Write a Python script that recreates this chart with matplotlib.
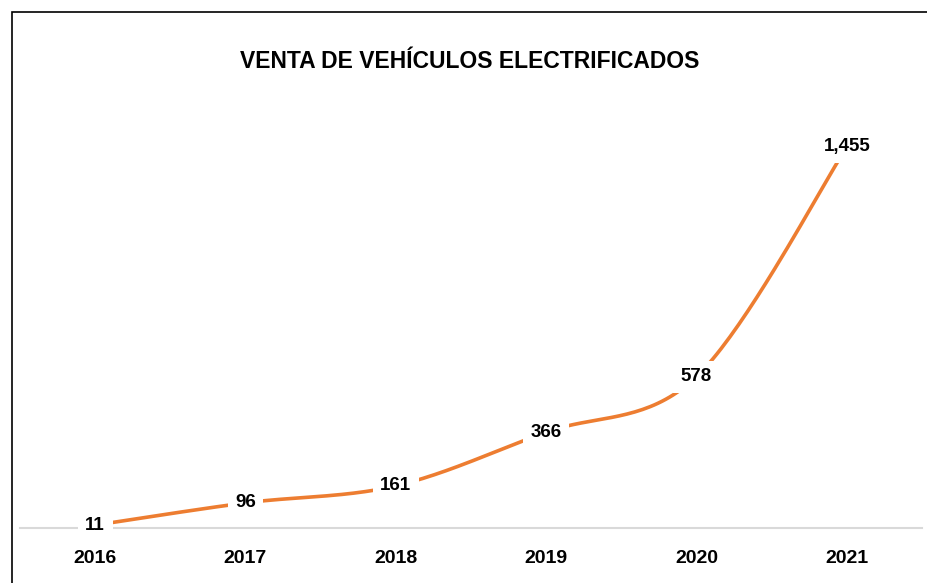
import numpy as np
import matplotlib.pyplot as plt
from matplotlib.patches import Rectangle

years = ['2016', '2017', '2018', '2019', '2020', '2021']
sales = [11, 96, 161, 366, 578, 1455]
labels = ['11', '96', '161', '366', '578', '1,455']

orange = '#ED7D31'
fonts = ['Liberation Sans', 'DejaVu Sans']


def smooth(x, y, n=40):
    # Excel-style smoothing: cubic bezier with Catmull-Rom control points
    x = np.asarray(x, float)
    y = np.asarray(y, float)
    px = np.concatenate([[x[0]], x, [x[-1]]])
    py = np.concatenate([[y[0]], y, [y[-1]]])
    xs, ys = [], []
    t = np.linspace(0, 1, n)
    for i in range(len(x) - 1):
        p0 = np.array([px[i + 1], py[i + 1]])
        p3 = np.array([px[i + 2], py[i + 2]])
        c1 = p0 + (p3 - np.array([px[i], py[i]])) / 6
        c2 = p3 - (np.array([px[i + 3], py[i + 3]]) - p0) / 6
        b = ((1 - t) ** 3)[:, None] * p0 + (3 * (1 - t) ** 2 * t)[:, None] * c1 \
            + (3 * (1 - t) * t ** 2)[:, None] * c2 + (t ** 3)[:, None] * p3
        xs.extend(b[:, 0])
        ys.extend(b[:, 1])
    return xs, ys


fig = plt.figure(figsize=(9.28, 5.83), dpi=100)
ax = fig.add_axes([20 / 928, 1 - 528 / 583, 902 / 928, (528 - 109) / 583])

xpos = np.arange(len(years))
sx, sy = smooth(xpos, sales)
ax.plot(sx, sy, color=orange, lw=2.6, solid_capstyle='round', zorder=2)

for x, v, lab in zip(xpos, sales, labels):
    ax.text(x, v, lab, ha='center', va='center', fontsize=13.5, fontweight='bold',
            family=fonts, color='black', zorder=3,
            bbox=dict(boxstyle='square,pad=0.4', fc='white', ec='none'))

ax.set_xlim(-0.5, len(years) - 0.5)
ax.set_ylim(0, 1600)
ax.set_xticks(xpos)
ax.set_xticklabels(years, fontsize=14, fontweight='bold', family=fonts)
ax.tick_params(axis='x', length=0, pad=16)
ax.set_yticks([])
for s in ['top', 'right', 'left']:
    ax.spines[s].set_visible(False)
ax.spines['bottom'].set_color('#D9D9D9')
ax.spines['bottom'].set_linewidth(1.5)

fig.text(470 / 928, 1 - 62 / 583, 'VENTA DE VEHÍCULOS ELECTRIFICADOS', ha='center', va='center',
         fontsize=16.5, fontweight='bold', fontstretch='condensed',
         family=['Liberation Sans Narrow', 'DejaVu Sans Condensed', 'Liberation Sans'])

# outer chart border (runs off the right and bottom edges)
fig.patches.append(Rectangle((12 / 928, -0.05), 1.0, 1 - 12 / 583 + 0.05,
                             transform=fig.transFigure, fill=False, ec='black', lw=1.2))

fig.savefig('out.png', dpi=100)
